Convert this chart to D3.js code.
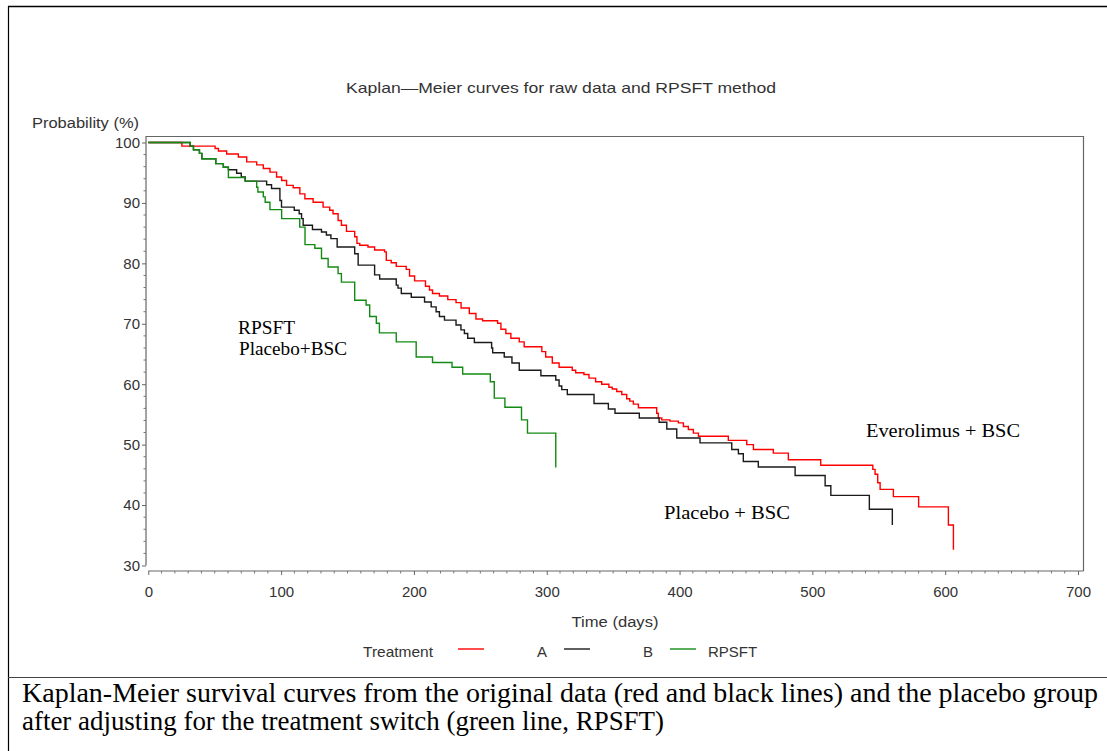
<!DOCTYPE html>
<html>
<head>
<meta charset="utf-8">
<script src="https://cdn.jsdelivr.net/npm/d3@7"></script>
<style>
  body { margin: 0; background: #fff; }
  svg { display: block; }
</style>
</head>
<body>
<svg id="chart" width="1107" height="751"></svg>
<script>
// Kaplan-Meier estimates (time in days, survival in %)
const timeA = [0, 25.3, 50.3, 52.8, 59, 67.8, 74.1, 81.6, 86.6, 91.6, 96.6, 100.4, 104.1, 109.1, 114.1, 117.9, 124.1, 131.6, 136.6, 139.1, 142.9, 145.4, 149.2, 155.4, 157.1, 159.2, 165.4, 170.4, 177.9, 179.2, 182.9, 186.7, 194.2, 196.7, 200.5, 208.7, 211.7, 214, 219.2, 225.5, 231.7, 235.5, 241.7, 246.7, 251.7, 263, 265.5, 269.2, 273, 279.3, 283, 296.3, 299.2, 304.2, 309.3, 319.2, 321.8, 328, 331.8, 336.8, 341.4, 346.8, 349.3, 352.7, 356.5, 360.2, 362.5, 365.2, 369, 382.8, 384, 386.6, 392.8, 399.1, 402.9, 406.6, 410.4, 414.2, 436.7, 450.6, 455.6, 470.6, 481.9, 506.3, 545.5, 547.2, 549.2, 551, 561, 580, 602.4, 606.2];
const survA = [100, 99.4, 99.0, 98.6, 98.1, 97.6, 96.8, 96.3, 95.7, 95.1, 94.3, 93.7, 92.9, 92.5, 91.5, 90.7, 90.1, 89.3, 88.8, 88.2, 87.1, 86.3, 85.3, 84.4, 83.3, 83.0, 82.7, 82.2, 81.9, 80.5, 80.1, 79.5, 79.0, 77.9, 77.1, 76.2, 75.6, 75.0, 74.6, 74.0, 73.5, 72.6, 71.7, 70.8, 70.5, 70.1, 69.1, 68.4, 67.6, 67.0, 66.2, 65.4, 64.5, 63.5, 62.8, 62.3, 61.9, 61.6, 61.0, 60.4, 60.0, 59.5, 59.2, 58.8, 58.3, 57.6, 57.2, 56.7, 56.1, 55.2, 54.4, 54.1, 53.9, 53.6, 53.0, 52.5, 51.9, 51.4, 50.7, 50.0, 49.2, 48.6, 47.5, 46.6, 45.9, 45.1, 43.7, 42.6, 41.4, 39.7, 36.7, 32.6];

const timeB = [0, 31.5, 34, 38.5, 40.3, 50.8, 56.5, 60.3, 66.5, 70, 73, 89.1, 92.8, 99.1, 100.3, 109.9, 113.6, 115.4, 116.6, 123.6, 130.4, 134.1, 137.5, 142.2, 155.4, 158, 170.4, 174.2, 186.7, 188, 190.5, 198, 208, 213, 216.7, 219.2, 223, 231.7, 235.4, 238, 240.5, 245.5, 258.5, 259.3, 268, 273.8, 279.3, 295.6, 306.8, 309.3, 311.3, 315.5, 335.6, 346.4, 351.4, 369.7, 384.6, 390.4, 397.9, 415.4, 439.3, 444.3, 448, 459.3, 487, 509.6, 513.9, 542.9, 560.2];
const survB = [100, 99.4, 98.8, 98.2, 97.3, 96.5, 95.9, 95.5, 94.9, 94.3, 93.6, 93.0, 92.4, 90.4, 89.3, 88.8, 88.2, 87.4, 86.3, 85.6, 85.2, 84.7, 84.1, 82.7, 81.6, 79.7, 78.1, 77.4, 76.4, 75.9, 75.0, 74.4, 73.6, 72.8, 72.0, 71.2, 70.6, 69.8, 69.0, 68.4, 67.6, 66.9, 66.0, 65.2, 64.5, 63.5, 62.3, 61.4, 60.7, 59.7, 59.1, 58.3, 56.8, 55.9, 55.2, 54.4, 53.7, 52.6, 51.1, 50.3, 49.2, 48.5, 47.2, 46.3, 44.9, 43.2, 41.6, 39.3, 36.7];

const timeR = [0, 31.5, 34, 38.5, 40.3, 50.8, 56.5, 60.3, 72.8, 81.6, 82.5, 86.6, 88, 91.6, 100.4, 114, 118, 125.4, 130.4, 135.4, 142.9, 145.4, 155.4, 164, 166.7, 171.7, 174, 186.7, 201.7, 214, 228.7, 236.7, 257.5, 260.5, 268.5, 281, 285.5, 306.8];
const survR = [100, 99.4, 98.8, 98.2, 97.3, 96.5, 95.9, 94.2, 93.6, 92.6, 91.8, 91.0, 90.1, 88.9, 87.4, 86.0, 83.1, 82.5, 80.8, 79.4, 78.3, 76.9, 73.9, 73.1, 71.2, 70.1, 68.5, 67.0, 64.5, 63.6, 62.8, 61.7, 60.4, 57.7, 56.2, 54.1, 51.9, 46.2];

const legendLabels = ["A", "B", "RPSFT"];
const seriesColors = ["#ff0000", "#1a1a1a", "#138a13"];
const xTicks = [0, 100, 200, 300, 400, 500, 600, 700];
const yTicks = [30, 40, 50, 60, 70, 80, 90, 100];

const svg = d3.select("#chart");
const sans = "'Liberation Sans', Arial, sans-serif";
const serif = "'Liberation Serif', 'Times New Roman', serif";
const ink = "#333";

// outer frame and caption separator
svg.append("line").attr("x1", 8).attr("x2", 1107).attr("y1", 6.5).attr("y2", 6.5)
  .attr("stroke", "#000").attr("stroke-width", 1.5);
svg.append("line").attr("x1", 8.5).attr("x2", 8.5).attr("y1", 6).attr("y2", 751)
  .attr("stroke", "#000").attr("stroke-width", 1.2);
svg.append("line").attr("x1", 8).attr("x2", 1107).attr("y1", 677.5).attr("y2", 677.5)
  .attr("stroke", "#444").attr("stroke-width", 1);

const plot = { left: 146, right: 1083, top: 136, bottom: 571 };
const x = d3.scaleLinear().domain([0, 700]).range([148.3, 1078]);
const y = d3.scaleLinear().domain([30, 100]).range([565.5, 142.5]);

// plot frame (top and right)
svg.append("path")
  .attr("d", `M${plot.left},${plot.top + 0.5}H${plot.right + 0.5}V${plot.bottom}`)
  .attr("fill", "none").attr("stroke", "#666").attr("stroke-width", 1.2);

// y axis
const yAxis = d3.axisLeft(y).tickValues(yTicks).tickSize(4).tickPadding(2).tickSizeOuter(0);
const gy = svg.append("g").attr("transform", `translate(${plot.left},0)`).call(yAxis);
gy.select(".domain").attr("d", `M0,${plot.top}V${y(30)}`).attr("stroke", "#666").attr("stroke-width", 1.2);
gy.selectAll(".tick line").attr("stroke", "#666");
gy.selectAll(".tick text").attr("font-family", sans).attr("font-size", 15).attr("fill", ink);
const yMinor = d3.range(30, 100, 2).filter(v => v % 10 !== 0);
gy.selectAll(".minor").data(yMinor).join("line").attr("class", "minor")
  .attr("x1", -2.5).attr("x2", 0).attr("y1", d => y(d)).attr("y2", d => y(d))
  .attr("stroke", "#777");

// x axis
const xAxis = d3.axisBottom(x).tickValues(xTicks).tickSize(4).tickPadding(11).tickSizeOuter(0);
const gx = svg.append("g").attr("transform", `translate(0,${plot.bottom})`).call(xAxis);
gx.select(".domain").attr("d", `M${x(0)},0H${plot.right + 0.5}`).attr("stroke", "#666").attr("stroke-width", 1.2);
gx.selectAll(".tick line").attr("stroke", "#666");
gx.selectAll(".tick text").attr("font-family", sans).attr("font-size", 15).attr("fill", ink);
const xMinor = d3.range(0, 700, 10).filter(v => v % 100 !== 0);
gx.selectAll(".minor").data(xMinor).join("line").attr("class", "minor")
  .attr("x1", d => x(d)).attr("x2", d => x(d)).attr("y1", 0).attr("y2", 2.5)
  .attr("stroke", "#777");

// survival curves
const stepLine = d3.line().x(d => x(d[0])).y(d => y(d[1])).curve(d3.curveStepAfter);
const series = [
  d3.zip(timeA, survA),
  d3.zip(timeB, survB),
  d3.zip(timeR, survR)
];
series.forEach((pts, i) => {
  svg.append("path").datum(pts)
    .attr("d", stepLine)
    .attr("fill", "none")
    .attr("stroke", seriesColors[i])
    .attr("stroke-width", 1.4);
});

// titles
svg.append("text").attr("x", 346).attr("y", 92.5)
  .attr("font-family", sans).attr("font-size", 15).attr("fill", ink)
  .attr("textLength", 430).attr("lengthAdjust", "spacingAndGlyphs")
  .text("Kaplan\u2014Meier  curves  for  raw  data  and  RPSFT  method");
svg.append("text").attr("x", 32).attr("y", 128)
  .attr("font-family", sans).attr("font-size", 15.5).attr("fill", ink)
  .attr("textLength", 107).attr("lengthAdjust", "spacingAndGlyphs")
  .text("Probability  (%)");
svg.append("text").attr("x", 571.5).attr("y", 627)
  .attr("font-family", sans).attr("font-size", 15.5).attr("fill", ink)
  .attr("textLength", 87).attr("lengthAdjust", "spacingAndGlyphs")
  .text("Time  (days)");

// curve annotations
const notes = [
  { t: "RPSFT", x: 238, y: 334, w: 57 },
  { t: "Placebo+BSC", x: 239, y: 355, w: 108 },
  { t: "Everolimus + BSC", x: 866, y: 437, w: 154 },
  { t: "Placebo + BSC", x: 664, y: 519, w: 126 }
];
svg.selectAll(".note").data(notes).join("text").attr("class", "note")
  .attr("x", d => d.x).attr("y", d => d.y)
  .attr("font-family", serif).attr("font-size", 18).attr("fill", "#000")
  .attr("textLength", d => d.w).attr("lengthAdjust", "spacingAndGlyphs")
  .text(d => d.t);

// legend
const lg = svg.append("g").attr("font-family", sans).attr("font-size", 15).attr("fill", ink);
lg.append("text").attr("x", 363).attr("y", 657).attr("textLength", 70)
  .attr("lengthAdjust", "spacingAndGlyphs").text("Treatment");
const legendLines = [458, 564, 670];
const legendText = [537, 643, 708];
legendLabels.forEach((lab, i) => {
  lg.append("line").attr("x1", legendLines[i]).attr("x2", legendLines[i] + 26)
    .attr("y1", 649).attr("y2", 649)
    .attr("stroke", seriesColors[i]).attr("stroke-width", 1.4);
});
["A", "B", "RPSFT"].forEach((lab, i) => {
  lg.append("text").attr("x", i === 2 ? legendText[2] : legendText[i]).attr("y", 657).text(lab);
});

// caption
const caption = [
  { t: "Kaplan-Meier survival curves from the original data (red and black lines) and the placebo group", y: 702, w: 1076 },
  { t: "after adjusting for the treatment switch (green line, RPSFT)", y: 729.5, w: 642 }
];
svg.selectAll(".cap").data(caption).join("text").attr("class", "cap")
  .attr("x", 22).attr("y", d => d.y)
  .attr("font-family", serif).attr("font-size", 27).attr("fill", "#000")
  .attr("textLength", d => d.w).attr("lengthAdjust", "spacingAndGlyphs")
  .text(d => d.t);
</script>
</body>
</html>
